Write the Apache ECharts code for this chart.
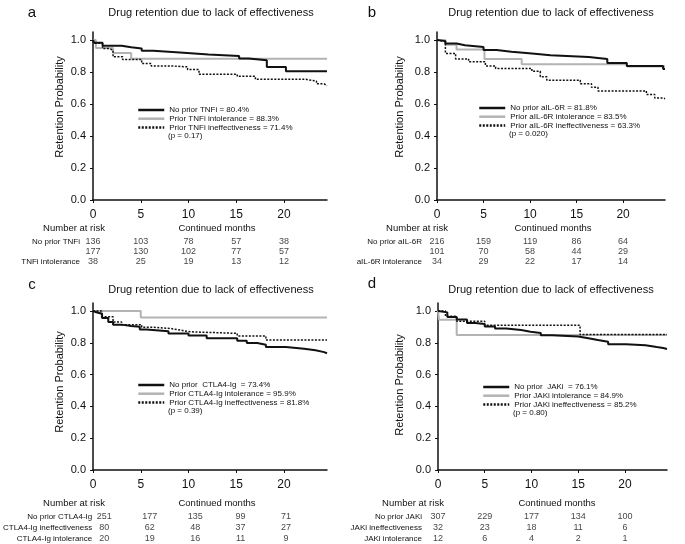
<!DOCTYPE html>
<html>
<head>
<meta charset="UTF-8">
<title>Drug retention due to lack of effectiveness</title>
<style>
    html, body { margin: 0; padding: 0; background: #fff; }
    #main { width: 685px; height: 544px; }
</style>
<script src="https://cdn.jsdelivr.net/npm/echarts@6/dist/echarts.min.js"></script>
</head>
<body>
<div id="main"></div>
<script>
// shared axis ticks
var xTicks = [0, 5, 10, 15, 20];
var yTicks = [0, 0.2, 0.4, 0.6, 0.8, 1.0];
var riskMonths = [0, 5, 10, 15, 20];
var titleText = 'Drug retention due to lack of effectiveness';

// a - TNFi, [month, retention]
var tnfNone = [[0, 1], [0.1, 0.983], [1.0, 0.964], [3.0, 0.954], [4.0, 0.947], [5.1, 0.933], [6.3, 0.922], [9.1, 0.91], [12.1, 0.90], [15.3, 0.884], [16.3, 0.874], [18.2, 0.832], [20.2, 0.804], [24.5, 0.804]];
var tnfIntol = [[0, 1], [0.3, 0.95], [2.1, 0.918], [4.0, 0.883], [24.5, 0.883]];
var tnfIneff = [[0, 1], [0.2, 0.98], [1.0, 0.947], [1.6, 0.937], [2.1, 0.895], [3.1, 0.878], [5.1, 0.853], [6.1, 0.838], [8.2, 0.832], [9.9, 0.815], [11.1, 0.786], [15.1, 0.773], [17.0, 0.754], [22.3, 0.743], [23.4, 0.726], [24.2, 0.714], [24.5, 0.714]];
var tnfLegend = ['No prior TNFi = 80.4%', 'Prior TNFi intolerance = 88.3%', 'Prior TNFi ineffectiveness = 71.4%'];
var tnfP = '(p = 0.17)';
var tnfRiskNames = ['No prior TNFi', 'TNFi ineffectiveness', 'TNFi intolerance'];
var tnfRisk = [[136, 103, 78, 57, 38], [177, 130, 102, 77, 57], [38, 25, 19, 13, 12]];

// b - aIL-6R
var il6None = [[0, 1], [0.1, 0.993], [0.9, 0.978], [2.1, 0.967], [3.0, 0.956], [5.0, 0.938], [6.4, 0.927], [8.0, 0.916], [10.2, 0.904], [12.2, 0.893], [16.3, 0.882], [18.3, 0.856], [20.4, 0.838], [24.3, 0.818], [24.5, 0.818]];
var il6Intol = [[0, 1], [0.9, 0.971], [2.1, 0.941], [5.1, 0.882], [9.1, 0.849], [20.4, 0.835], [24.5, 0.835]];
var il6Ineff = [[0, 1], [0.1, 0.99], [0.9, 0.916], [2.0, 0.882], [3.4, 0.864], [5.2, 0.838], [6.3, 0.822], [10.2, 0.804], [11.1, 0.771], [11.8, 0.749], [15.4, 0.727], [16.6, 0.704], [17.3, 0.682], [22.5, 0.66], [23.4, 0.638], [24.3, 0.633], [24.5, 0.633]];
var il6Legend = ['No prior aIL-6R = 81.8%', 'Prior aIL-6R intolerance = 83.5%', 'Prior aIL-6R ineffectiveness = 63.3%'];
var il6P = '(p = 0.020)';
var il6RiskNames = ['No prior aIL-6R', 'aIL-6R ineffectiveness', 'aIL-6R intolerance'];
var il6Risk = [[216, 159, 119, 86, 64], [101, 70, 58, 44, 29], [34, 29, 22, 17, 14]];

// c - CTLA4-Ig
var ctlNone = [[0, 1], [0.1, 0.992], [0.35, 0.982], [0.95, 0.955], [1.6, 0.931], [2.1, 0.914], [3.0, 0.906], [4.0, 0.9], [4.9, 0.884], [5.6, 0.873], [7.9, 0.859], [10.0, 0.845], [11.9, 0.829], [15.1, 0.812], [16.1, 0.798], [17.2, 0.788], [18.1, 0.773], [20.2, 0.763], [22.1, 0.753], [23.3, 0.741], [24.2, 0.734], [24.5, 0.734]];
var ctlIntol = [[0, 1], [5.0, 0.959], [24.5, 0.959]];
var ctlIneff = [[0, 1], [0.9, 0.963], [2.1, 0.931], [3.0, 0.914], [5.1, 0.898], [6.1, 0.89], [8.1, 0.88], [9.1, 0.869], [10.2, 0.859], [15.1, 0.843], [18.1, 0.818], [24.5, 0.818]];
var ctlLegend = ['No prior  CTLA4-Ig  = 73.4%', 'Prior CTLA4-Ig intolerance = 95.9%', 'Prior CTLA4-Ig ineffectiveness = 81.8%'];
var ctlP = '(p = 0.39)';
var ctlRiskNames = ['No prior CTLA4-Ig', 'CTLA4-Ig ineffectiveness', 'CTLA4-Ig intolerance'];
var ctlRisk = [[251, 177, 135, 99, 71], [80, 62, 48, 37, 27], [20, 19, 16, 11, 9]];

// d - JAKi
var jakNone = [[0, 1], [0.1, 0.991], [1.0, 0.962], [2.0, 0.947], [3.1, 0.924], [4.0, 0.918], [5.0, 0.902], [6.1, 0.889], [7.3, 0.88], [8.9, 0.869], [9.9, 0.862], [11.0, 0.847], [12.2, 0.84], [15.0, 0.829], [16.1, 0.818], [17.1, 0.807], [18.2, 0.791], [20.1, 0.784], [22.2, 0.773], [23.4, 0.767], [24.1, 0.761], [24.5, 0.761]];
var jakIntol = [[0, 1], [0.1, 0.945], [2.0, 0.849], [24.5, 0.849]];
var jakIneff = [[0, 1], [0.8, 0.967], [2.0, 0.936], [5.0, 0.91], [15.2, 0.852], [24.5, 0.852]];
var jakLegend = ['No prior  JAKi  = 76.1%', 'Prior JAKi intolerance = 84.9%', 'Prior JAKi ineffectiveness = 85.2%'];
var jakP = '(p = 0.80)';
var jakRiskNames = ['No prior JAKi', 'JAKi ineffectiveness', 'JAKi intolerance'];
var jakRisk = [[307, 229, 177, 134, 100], [32, 23, 18, 11, 6], [12, 6, 4, 2, 1]];

var FONT = '"Liberation Sans", Arial, sans-serif';
var INK = '#111';
var GRAY = '#b3b3b3';
var LEG_ROW = 8.7;

// layout of the four panels (pixels)
var panels = [
    { letter: 'a', lx: 32, ly: 13, tx: 211, ty: 13, left: 93, width: 234, top: 32, bottom: 200, yNameX: 60, yNameY: 107,
      legLeft: 137, legTop: 106, riskLabelY: 228, riskTop: 237, riskH: 30, riskMargin: 13, narX: 74, cmX: 217,
      curves: [tnfNone, tnfIntol, tnfIneff], legend: tnfLegend, p: tnfP, riskNames: tnfRiskNames, risk: tnfRisk },
    { letter: 'b', lx: 372, ly: 13, tx: 551, ty: 13, left: 437, width: 228, top: 32, bottom: 200, yNameX: 400, yNameY: 107,
      legLeft: 478, legTop: 104, riskLabelY: 228, riskTop: 237, riskH: 30, riskMargin: 15, narX: 417, cmX: 553,
      curves: [il6None, il6Intol, il6Ineff], legend: il6Legend, p: il6P, riskNames: il6RiskNames, risk: il6Risk },
    { letter: 'c', lx: 32, ly: 285, tx: 211, ty: 290, left: 93, width: 234, top: 303, bottom: 470, yNameX: 60, yNameY: 382,
      legLeft: 137, legTop: 381, riskLabelY: 503, riskTop: 511.5, riskH: 33, riskMargin: 12, narX: 74, cmX: 217,
      curves: [ctlNone, ctlIntol, ctlIneff], legend: ctlLegend, p: ctlP, riskNames: ctlRiskNames, risk: ctlRisk },
    { letter: 'd', lx: 372, ly: 284, tx: 551, ty: 290, left: 438, width: 229, top: 303, bottom: 470, yNameX: 400, yNameY: 385,
      legLeft: 482, legTop: 383, riskLabelY: 503, riskTop: 511.5, riskH: 33, riskMargin: 16, narX: 413, cmX: 557,
      curves: [jakNone, jakIntol, jakIneff], legend: jakLegend, p: jakP, riskNames: jakRiskNames, risk: jakRisk }
];

var curveStyles = [
    { color: INK, width: 2, type: 'solid' },
    { color: GRAY, width: 2, type: 'solid' },
    { color: INK, width: 1.5, type: [2, 1.5] }
];

var option = {
    animation: false,
    backgroundColor: '#fff',
    grid: [], xAxis: [], yAxis: [], series: [], legend: [], graphic: []
};

function txt(text, x, y, size, align, extra) {
    var el = {
        type: 'text', x: x, y: y, silent: true,
        style: { text: text, fontSize: size, fontFamily: FONT, fill: INK, align: align || 'center', verticalAlign: 'middle' }
    };
    if (extra) { for (var k in extra) el[k] = extra[k]; }
    return el;
}

function addPanel(p, i) {
    var g = i * 2;
    // survival plot grid
    option.grid.push({ left: p.left, top: p.top, width: p.width, height: p.bottom - p.top });
    // number at risk grid, same x scale
    option.grid.push({ left: p.left, top: p.riskTop, width: p.width, height: p.riskH });

    option.xAxis.push({
        gridIndex: g, type: 'value', min: 0, max: 24.5,
        axisLine: { show: true, lineStyle: { color: INK, width: 1.5 } },
        axisTick: { show: true, customValues: xTicks, length: 3, lineStyle: { color: INK } },
        axisLabel: { customValues: xTicks, fontSize: 12, color: INK, margin: 9, fontFamily: FONT },
        splitLine: { show: false }
    });
    option.xAxis.push({ gridIndex: g + 1, type: 'value', min: 0, max: 24.5, show: false });

    option.yAxis.push({
        gridIndex: g, type: 'value', min: 0, max: 1.05,
        axisLine: { show: true, lineStyle: { color: INK, width: 1.5 } },
        axisTick: { show: true, customValues: yTicks, length: 3, lineStyle: { color: INK } },
        axisLabel: { customValues: yTicks, fontSize: 11, color: INK, margin: 7, fontFamily: FONT,
            formatter: function (v) { return v.toFixed(1); } },
        splitLine: { show: false }
    });
    option.yAxis.push({
        gridIndex: g + 1, type: 'category', inverse: true, data: p.riskNames,
        axisLine: { show: false }, axisTick: { show: false }, splitLine: { show: false },
        axisLabel: { fontSize: 8, color: INK, margin: p.riskMargin, fontFamily: FONT }
    });

    // km curves
    for (var s = 0; s < 3; s++) {
        var st = curveStyles[s];
        option.series.push({
            name: p.legend[s], type: 'line', step: 'end', xAxisIndex: g, yAxisIndex: g,
            data: p.curves[s], symbol: 'none', silent: true, z: s === 1 ? 2 : 3,
            lineStyle: { color: st.color, width: st.width, type: st.type },
            itemStyle: { color: st.color }
        });
    }

    // number at risk numbers
    var pts = [];
    for (var r = 0; r < 3; r++) {
        for (var k = 0; k < riskMonths.length; k++) {
            pts.push([riskMonths[k], r, p.risk[r][k]]);
        }
    }
    option.series.push({
        type: 'scatter', xAxisIndex: g + 1, yAxisIndex: g + 1, data: pts, symbolSize: 1, silent: true,
        itemStyle: { color: 'rgba(0,0,0,0)' },
        label: { show: true, position: 'inside', formatter: function (q) { return q.value[2]; },
            fontSize: 9, color: INK, fontFamily: FONT }
    });

    // legend: line samples only, no symbol
    option.legend.push({
        left: p.legLeft, top: p.legTop, orient: 'vertical', selectedMode: false, padding: 0,
        itemWidth: 26, itemHeight: 8, itemGap: LEG_ROW - 8, data: p.legend,
        itemStyle: { opacity: 0, borderWidth: 0 },
        lineStyle: { width: 2.5 },
        textStyle: { fontSize: 8, lineHeight: 8, color: INK, fontFamily: FONT }
    });

    option.graphic.push(txt(p.letter, p.lx, p.ly, 15));
    option.graphic.push(txt(titleText, p.tx, p.ty, 11));
    option.graphic.push(txt('Retention Probability', p.yNameX, p.yNameY, 11, 'center', { rotation: Math.PI / 2 }));
    option.graphic.push(txt(p.p, p.legLeft + 31, p.legTop + 3 * LEG_ROW + 4, 8, 'left'));
    option.graphic.push(txt('Number at risk', p.narX, p.riskLabelY, 9.5));
    option.graphic.push(txt('Continued months', p.cmX, p.riskLabelY, 9.5));
}

for (var i = 0; i < panels.length; i++) addPanel(panels[i], i);

var chart = echarts.init(document.getElementById('main'), null, { renderer: 'canvas' });
chart.setOption(option);
</script>
</body>
</html>
